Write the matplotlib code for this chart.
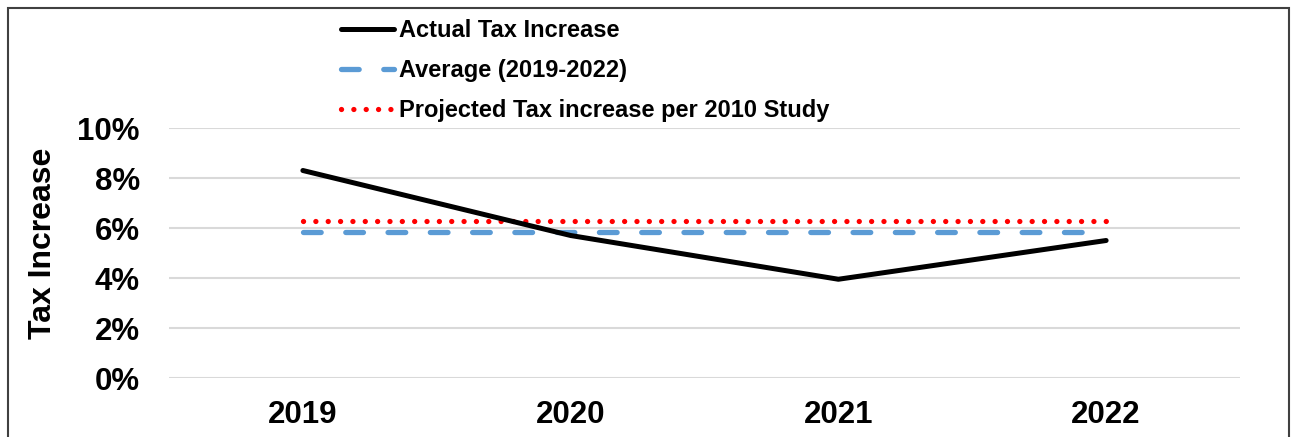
import matplotlib.pyplot as plt
from matplotlib.patches import Rectangle
from matplotlib.lines import Line2D
from matplotlib.ticker import PercentFormatter

plt.rcParams['font.family'] = ['Liberation Sans', 'DejaVu Sans']
plt.rcParams['font.weight'] = 'bold'

years = ['2019', '2020', '2021', '2022']
actual = [0.083, 0.057, 0.0395, 0.055]
average = [0.0586, 0.0586, 0.0586, 0.0586]
projected = [0.063, 0.063, 0.063, 0.063]

blue = '#5B9BD5'
red = '#FF0000'
dash_style = (0, (3.35, 4.66))
dot_style = (0, (0.01, 2.33))

fig = plt.figure(figsize=(12.91, 4.37), dpi=100)
W, H = 1291, 437

# outer chart frame (bottom edge runs off the canvas)
fig.patches.append(Rectangle((8 / W, -0.05), (1289 - 8) / W, (437 - 8) / H + 0.05,
                             transform=fig.transFigure, fill=False,
                             edgecolor='#404040', linewidth=1.5))

ax = fig.add_axes([169 / W, 59 / H, (1240 - 169) / W, 250 / H])
x = range(len(years))

ax.plot(x, average, color=blue, lw=3.8, dash_capstyle='round',
        linestyle=dash_style, zorder=3)
ax.plot(x, projected, color=red, lw=3.8, dash_capstyle='round',
        linestyle=dot_style, zorder=3)
ax.plot(x, actual, color='black', lw=3.6, solid_capstyle='round', zorder=4)

ax.set_xlim(-0.5, 3.5)
ax.set_ylim(0, 0.10)
ax.set_yticks([0, 0.02, 0.04, 0.06, 0.08, 0.10])
ax.yaxis.set_major_formatter(PercentFormatter(1.0, decimals=0))
ax.set_xticks(list(x))
ax.set_xticklabels(years)
ax.tick_params(axis='both', length=0, labelsize=22.5)
ax.tick_params(axis='y', pad=21)
ax.tick_params(axis='x', pad=16)
ax.grid(axis='y', color='#D9D9D9', linewidth=1.5)
ax.set_axisbelow(True)
for s in ax.spines.values():
    s.set_visible(False)

fig.text(43 / W, 1 - 243 / H, 'Tax Increase', rotation=90, ha='center', va='center',
         fontsize=23, fontweight='bold')

handles = [
    Line2D([], [], color='black', lw=3.6, solid_capstyle='round'),
    Line2D([], [], color=blue, lw=3.8, dash_capstyle='round', linestyle=dash_style),
    Line2D([], [], color=red, lw=3.8, dash_capstyle='round', linestyle=dot_style),
]
labels = ['Actual Tax Increase', 'Average (2019-2022)', 'Projected Tax increase per 2010 Study']
fig.legend(handles, labels, loc='upper left', bbox_to_anchor=(341 / W, 1 - 19 / H),
           frameon=False, handlelength=2.25, handletextpad=0.22,
           labelspacing=0.72, borderpad=0, borderaxespad=0,
           prop={'weight': 'bold', 'size': 17})

fig.savefig('out.png', dpi=100)
